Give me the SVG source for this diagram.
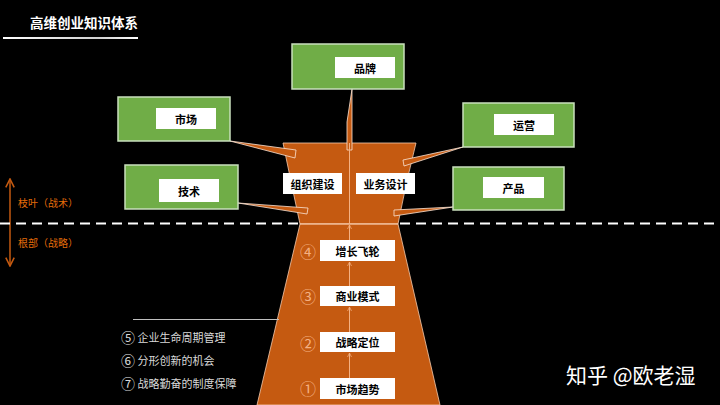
<svg xmlns="http://www.w3.org/2000/svg" width="720" height="405" viewBox="0 0 720 405">
<defs>
<style>
.cjk{font-family:"Noto Sans CJK SC","Liberation Sans",sans-serif;}
.leaf{fill:#70AD47;stroke:#C9DFBD;stroke-width:1.5;}
.lbl{fill:#FFFFFF;}
.lt{font-family:"Noto Sans CJK SC","Liberation Sans",sans-serif;font-size:11px;font-weight:bold;fill:#000;text-anchor:middle;dominant-baseline:central;}
.num{font-family:"Noto Sans CJK SC","Liberation Sans",sans-serif;font-size:16px;fill:#F4B183;text-anchor:middle;dominant-baseline:central;}
.branch{fill:#C55A11;stroke:#FBE5D6;stroke-width:0.8;stroke-linejoin:round;}
.side{font-family:"Noto Sans CJK SC","Liberation Sans",sans-serif;font-size:10px;fill:#E46C0A;dominant-baseline:central;}
.note{font-family:"Noto Sans CJK SC","Liberation Sans",sans-serif;font-size:11px;fill:#D9D9D9;dominant-baseline:central;}
.cn{font-size:14px;}
.axis{stroke:#F4B183;stroke-width:1;fill:none;}
</style>
<linearGradient id="ul" x1="0" y1="0" x2="1" y2="0">
<stop offset="0" stop-color="#FFFFFF"/>
<stop offset="0.7" stop-color="#D0D0D0"/>
<stop offset="1" stop-color="#FFFFFF"/>
</linearGradient>
<marker id="up" viewBox="0 0 10 10" refX="9" refY="5" markerWidth="5" markerHeight="5" orient="auto">
<path d="M1,1 L9,5 L1,9" fill="none" stroke="#F4B183" stroke-width="1.5"/>
</marker>
<marker id="sa" viewBox="0 0 10 10" refX="9" refY="5" markerWidth="7" markerHeight="7" orient="auto-start-reverse">
<path d="M1,1 L9,5 L1,9" fill="none" stroke="#C55A11" stroke-width="1.5"/>
</marker>
</defs>
<rect width="720" height="405" fill="#000"/>

<g id="title">
<text class="cjk" x="30" y="28" font-size="13.5" font-weight="bold" fill="#FFF">高维创业知识体系</text>
<rect x="3" y="37" width="135" height="2" fill="url(#ul)"/>
</g>

<g id="axis-left">
<line x1="10" y1="179" x2="10" y2="266" stroke="#C55A11" stroke-width="1.5" marker-start="url(#sa)" marker-end="url(#sa)"/>
<text class="side" x="18" y="202">枝叶（战术）</text>
<text class="side" x="18" y="242">根部（战略）</text>
</g>

<line id="divider" x1="0" y1="223.5" x2="720" y2="223.5" stroke="#FFF" stroke-width="1.8" stroke-dasharray="10,6"/>

<g id="trunk">
<path d="M283,143 L416,143 Q406,182 398,224 L300,224 Q291,182 283,143 Z" fill="#C55A11" stroke="#F8CBAD" stroke-width="0.8"/>
<path d="M300,224 L398,224 L440,405 L257,405 Z" fill="#C55A11" stroke="#F8CBAD" stroke-width="0.8"/>
<line x1="300" y1="224" x2="398" y2="224" stroke="#F8CBAD" stroke-width="0.8"/>
</g>

<g id="connectors">
<polygon class="branch" points="352,89 347,122 347,150 352,150"/>
<polygon class="branch" points="230,141 296,150 295,158"/>
<polygon class="branch" points="238,203 308,208 307,214"/>
<polygon class="branch" points="463,147 403,160 404,166"/>
<polygon class="branch" points="453,207 394,210 394,216"/>
<line class="axis" x1="349.5" y1="143" x2="349.5" y2="224"/>
<line class="axis" x1="349.5" y1="240" x2="349.5" y2="225" marker-end="url(#up)"/>
<line class="axis" x1="349.5" y1="286" x2="349.5" y2="262" marker-end="url(#up)"/>
<line class="axis" x1="349.5" y1="332" x2="349.5" y2="307" marker-end="url(#up)"/>
<line class="axis" x1="349.5" y1="378" x2="349.5" y2="353" marker-end="url(#up)"/>
</g>

<g id="brand">
<rect class="leaf" x="292" y="44" width="112" height="45"/>
<rect class="lbl" x="335" y="57" width="60" height="21"/>
<text class="lt" x="365" y="67.5">品牌</text>
</g>
<g id="market">
<rect class="leaf" x="118" y="97" width="112" height="44"/>
<rect class="lbl" x="156" y="108" width="60" height="21"/>
<text class="lt" x="186" y="118.5">市场</text>
</g>
<g id="tech">
<rect class="leaf" x="125" y="165" width="113" height="44"/>
<rect class="lbl" x="159" y="179" width="60" height="23"/>
<text class="lt" x="189" y="190.5">技术</text>
</g>
<g id="ops">
<rect class="leaf" x="463" y="103" width="111" height="44"/>
<rect class="lbl" x="494" y="114" width="60" height="21"/>
<text class="lt" x="524" y="124.5">运营</text>
</g>
<g id="product">
<rect class="leaf" x="453" y="167" width="111" height="43"/>
<rect class="lbl" x="483" y="177" width="61" height="21"/>
<text class="lt" x="513.5" y="187.5">产品</text>
</g>

<g id="org">
<rect class="lbl" x="283" y="173" width="59" height="21"/>
<text class="lt" x="312.5" y="183.5">组织建设</text>
</g>
<g id="bizdesign">
<rect class="lbl" x="356" y="173" width="59" height="21"/>
<text class="lt" x="385.5" y="183.5">业务设计</text>
</g>

<g id="flywheel">
<rect class="lbl" x="320" y="240" width="75" height="21"/>
<text class="lt" x="357.5" y="250.5">增长飞轮</text>
<text class="num" x="308" y="251">④</text>
</g>
<g id="bizmodel">
<rect class="lbl" x="320" y="286" width="75" height="20"/>
<text class="lt" x="357.5" y="296">商业模式</text>
<text class="num" x="308" y="296">③</text>
</g>
<g id="positioning">
<rect class="lbl" x="320" y="332" width="75" height="20"/>
<text class="lt" x="357.5" y="342">战略定位</text>
<text class="num" x="308" y="343">②</text>
</g>
<g id="trend">
<rect class="lbl" x="320" y="378" width="75" height="21"/>
<text class="lt" x="357.5" y="388.5">市场趋势</text>
<text class="num" x="308" y="388">①</text>
</g>

<g id="notes">
<line x1="133" y1="319.5" x2="279" y2="319.5" stroke="#BFBFBF" stroke-width="1"/>
<text class="note" x="121" y="337"><tspan class="cn">⑤</tspan> 企业生命周期管理</text>
<text class="note" x="121" y="360"><tspan class="cn">⑥</tspan> 分形创新的机会</text>
<text class="note" x="121" y="383"><tspan class="cn">⑦</tspan> 战略勤奋的制度保障</text>
</g>

<text class="cjk" x="566" y="383" font-size="21" fill="#FFF">知乎 @欧老湿</text>
</svg>
